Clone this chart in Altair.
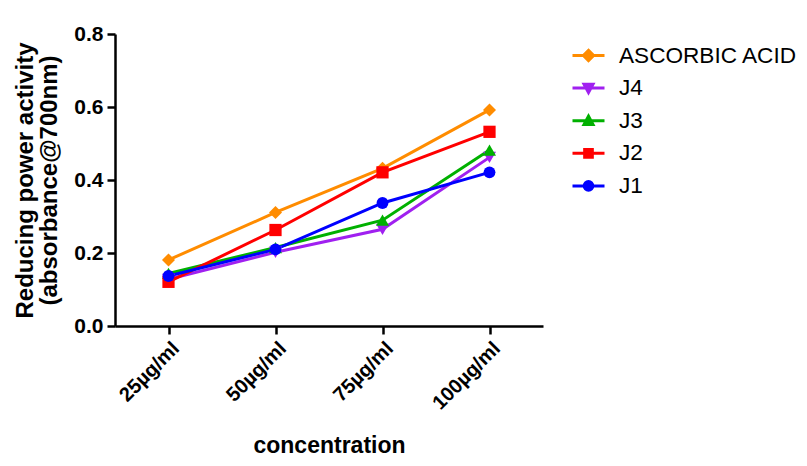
import altair as alt
import pandas as pd

concentrations = ["25µg/ml", "50µg/ml", "75µg/ml", "100µg/ml"]
series_names = ["ASCORBIC ACID", "J4", "J3", "J2", "J1"]
ascorbic = [0.181, 0.311, 0.432, 0.592]
j4 = [0.128, 0.202, 0.265, 0.462]
j3 = [0.144, 0.215, 0.290, 0.482]
j2 = [0.121, 0.263, 0.421, 0.532]
j1 = [0.137, 0.210, 0.337, 0.421]
y_ticks = [0.0, 0.2, 0.4, 0.6, 0.8]

colors = ["#FF8C00", "#A020F0", "#00B000", "#FF0000", "#0000FF"]
plot_shapes = ["diamond", "triangle-down", "triangle-up", "square", "circle"]
plot_sizes = [170, 170, 170, 150, 140]
legend_paths = [
    "M-1,0H1M0,-0.32L0.32,0L0,0.32L-0.32,0Z",
    "M-1,0H1M-0.28,-0.24H0.28L0,0.28Z",
    "M-1,0H1M-0.28,0.24H0.28L0,-0.28Z",
    "M-1,0H1M-0.24,-0.24H0.24V0.24H-0.24Z",
    "M-1,0H1M-0.27,0A0.27,0.27,0,1,0,0.27,0A0.27,0.27,0,1,0,-0.27,0Z",
]

rows = []
for name, vals in zip(series_names, [ascorbic, j4, j3, j2, j1]):
    for c, v in zip(concentrations, vals):
        rows.append({"conc": c, "value": v, "series": name})
df = pd.DataFrame(rows)

FONT = "Liberation Sans"

x_enc = alt.X(
    "conc:N",
    sort=concentrations,
    scale=alt.Scale(type="point", padding=0.5),
    axis=alt.Axis(
        title="concentration",
        labelAngle=-45,
        labelFont=FONT,
        labelFontWeight="bold",
        labelFontSize=20,
        labelColor="black",
        labelPadding=4,
        titleFont=FONT,
        titleFontWeight="bold",
        titleFontSize=23,
        titleColor="black",
        titlePadding=22,
        domainColor="black",
        domainWidth=2.5,
        tickColor="black",
        tickWidth=2.5,
        tickSize=8,
        grid=False,
    ),
)
y_enc = alt.Y(
    "value:Q",
    scale=alt.Scale(domain=[0, 0.8], nice=False),
    axis=alt.Axis(
        title=["Reducing power activity", "(absorbance@700nm)"],
        values=y_ticks,
        format=".1f",
        labelFont=FONT,
        labelFontWeight="bold",
        labelFontSize=21,
        labelColor="black",
        labelPadding=4,
        titleFont=FONT,
        titleFontWeight="bold",
        titleFontSize=24,
        titleColor="black",
        titleLineHeight=24,
        titlePadding=12,
        domainColor="black",
        domainWidth=2.5,
        tickColor="black",
        tickWidth=2.5,
        tickSize=8,
        grid=False,
    ),
)

color_scale = alt.Scale(domain=series_names, range=colors)

leg = alt.Legend(
    title=None,
    orient="none",
    legendX=456,
    legendY=4,
    labelFont=FONT,
    labelFontSize=22.6,
    labelColor="black",
    labelLimit=400,
    labelOffset=13,
    symbolSize=1024,
    symbolStrokeWidth=3,
    symbolOpacity=1,
    rowPadding=2.6,
    padding=0,
)

legend_layer = alt.Chart(df).mark_point(
    filled=True, opacity=0, size=1024, strokeWidth=3
).encode(
    x=x_enc,
    y=y_enc,
    fill=alt.Fill("series:N", scale=alt.Scale(domain=series_names, range=colors), legend=leg),
    stroke=alt.Stroke("series:N", scale=alt.Scale(domain=series_names, range=colors), legend=leg),
    shape=alt.Shape("series:N", scale=alt.Scale(domain=series_names, range=legend_paths), legend=leg),
)

lines = alt.Chart(df).mark_line(strokeWidth=3).encode(
    x=x_enc,
    y=y_enc,
    color=alt.Color("series:N", scale=color_scale, legend=None),
)

point_layers = []
for name, shp, sz, col in zip(series_names, plot_shapes, plot_sizes, colors):
    point_layers.append(
        alt.Chart(df)
        .transform_filter(alt.datum.series == name)
        .mark_point(filled=True, opacity=1, shape=shp, size=sz, color=col)
        .encode(x=x_enc, y=y_enc)
    )

chart = (
    alt.layer(legend_layer, lines, *point_layers)
    .properties(
        width=428,
        height=292,
        autosize=alt.AutoSizeParams(type="none"),
        padding={"left": 107, "top": 26, "right": 256, "bottom": 132},
        background="white",
    )
    .configure_view(stroke=None)
)

chart.save("out.html", embed_options={"renderer": "svg", "actions": False})
